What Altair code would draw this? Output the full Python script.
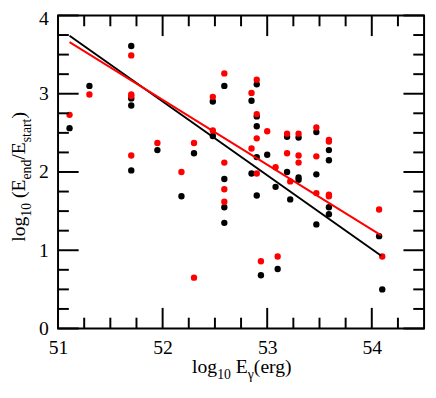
import altair as alt
import pandas as pd

# ---------------- data ----------------
x_black = [51.11, 51.30, 51.70, 51.70, 51.70, 51.70, 51.95, 52.18, 52.30, 52.48,
           52.48, 52.59, 52.59, 52.59, 52.59, 52.85, 52.85, 52.90, 52.90, 52.90,
           52.90, 52.90, 52.94, 53.00, 53.08, 53.10, 53.19, 53.19, 53.22, 53.30,
           53.30, 53.30, 53.47, 53.47, 53.47, 53.59, 53.59, 53.59, 53.59, 54.07,
           54.10]
y_black = [2.56, 3.10, 3.61, 2.94, 2.85, 2.02, 2.28, 1.69, 2.24, 2.90,
           2.46, 3.10, 1.91, 1.55, 1.35, 2.91, 1.98, 3.12, 2.71, 2.585,
           2.19, 1.70, 0.68, 2.22, 1.81, 0.76, 2.45, 2.00, 1.65, 2.44,
           1.93, 1.90, 2.51, 1.97, 1.33, 2.28, 2.15, 1.55, 1.46, 1.18,
           0.50]
x_red = [51.11, 51.30, 51.70, 51.70, 51.70, 51.70, 51.95, 52.18, 52.30, 52.30,
         52.48, 52.48, 52.59, 52.59, 52.59, 52.59, 52.85, 52.85, 52.90, 52.90,
         52.90, 52.90, 52.94, 53.00, 53.08, 53.10, 53.19, 53.19, 53.22, 53.30,
         53.30, 53.30, 53.47, 53.47, 53.47, 53.59, 53.59, 53.59, 53.59, 54.07,
         54.10]
y_red = [2.73, 2.99, 3.49, 2.99, 2.97, 2.21, 2.37, 2.00, 2.37, 0.65,
         2.96, 2.53, 3.26, 2.12, 1.78, 1.62, 3.01, 2.30, 3.18, 2.74,
         2.43, 1.98, 0.86, 2.52, 2.06, 0.92, 2.49, 2.24, 1.88, 2.49,
         2.21, 2.12, 2.57, 2.20, 1.73, 2.41, 2.39, 1.71, 1.69, 1.52,
         0.92]

fit_x = [51.11, 54.09]
fit_black = [3.74, 0.93]
fit_red = [3.66, 1.19]

x_major = [51, 52, 53, 54]
x_minor = [51.25, 51.5, 51.75, 52.25, 52.5, 52.75, 53.25, 53.5, 53.75, 54.25]
y_major = [0, 1, 2, 3, 4]
y_minor = [0.25, 0.5, 0.75, 1.25, 1.5, 1.75, 2.25, 2.5, 2.75, 3.25, 3.5, 3.75]

x_title = [("log", "main"), ("10", "sub"), (" ", "main"), ("E", "main"),
           ("\u03b3", "sub"), ("(erg)", "main")]
y_title = [("log", "main"), ("10", "sub"), (" ", "main"), ("(E", "main"),
           ("end", "sub"), ("/E", "main"), ("start", "sub"), (")", "main")]

# ---------------- style ----------------
FONT = "Liberation Serif"
W, H = 373, 319
MAIN, SUB, SHIFT = 20, 14, 6
MAJ, MIN = 21, 11

xscale = alt.Scale(domain=[51, 54.5], nice=False, zero=False)
yscale = alt.Scale(domain=[0, 4], nice=False, zero=False)
xaxis = alt.Axis(values=x_major, ticks=False, domain=False, grid=False, title=None,
                 labelFont=FONT, labelFontSize=MAIN, labelColor="black",
                 labelPadding=9, labelFlush=False, labelOverlap=False, format="d")
yaxis = alt.Axis(values=y_major, ticks=False, domain=False, grid=False, title=None,
                 labelFont=FONT, labelFontSize=MAIN, labelColor="black",
                 labelPadding=10, labelFlush=False, labelOverlap=False, format="d",
                 labelOffset={"condition": {"test": "datum.value === 4", "value": 3},
                              "value": 0})


def X(f):
    return alt.X(f"{f}:Q", scale=xscale, axis=xaxis)


def Y(f):
    return alt.Y(f"{f}:Q", scale=yscale, axis=yaxis)


layers = []
for xs, ys, col in [(x_black, y_black, "black"), (x_red, y_red, "#ff0000")]:
    df = pd.DataFrame({"x": xs, "y": ys})
    layers.append(alt.Chart(df).mark_circle(size=42, color=col, opacity=1)
                  .encode(x=X("x"), y=Y("y")))

for ys, col in [(fit_black, "black"), (fit_red, "#ff0000")]:
    df = pd.DataFrame({"x": fit_x, "y": ys})
    layers.append(alt.Chart(df).mark_line(color=col, strokeWidth=2)
                  .encode(x=X("x"), y=Y("y")))

# inward ticks on all four sides
for vals, ln in [(x_major, MAJ), (x_minor, MIN)]:
    df = pd.DataFrame({"x": vals})
    for y0, y1 in [(H, H - ln), (0, ln)]:
        layers.append(alt.Chart(df).mark_rule(color="black", strokeWidth=2)
                      .encode(x=X("x"), y=alt.value(y0), y2=alt.value(y1)))
for vals, ln in [(y_major, MAJ), (y_minor, MIN)]:
    df = pd.DataFrame({"y": vals})
    for x0, x1 in [(0, ln), (W, W - ln)]:
        layers.append(alt.Chart(df).mark_rule(color="black", strokeWidth=2)
                      .encode(y=Y("y"), x=alt.value(x0), x2=alt.value(x1)))

# axis titles with real subscripts
EM = {"l": .278, "o": .5, "g": .5, "1": .5, "0": .5, " ": .25, "(": .333, ")": .333,
      "E": .611, "e": .444, "n": .5, "d": .5, "/": .278, "s": .389, "t": .278,
      "a": .444, "r": .333, "\u03b3": .44}


def width(txt, size):
    return sum(EM.get(c, .5) for c in txt) * size


one = pd.DataFrame({"a": [0]})

# x title
total = sum(width(t, MAIN if k == "main" else SUB) for t, k in x_title)
cx, base = W / 2 + 1, H + 45
pos = cx - total / 2
for t, k in x_title:
    size = MAIN if k == "main" else SUB
    if t.strip():
        layers.append(alt.Chart(one).mark_text(
            align="left", baseline="alphabetic", font=FONT, fontSize=size, color="black")
            .encode(x=alt.value(pos), y=alt.value(base + (SHIFT if k == "sub" else 0)),
                    text=alt.value(t)))
    pos += width(t, size)

# y title (rotated)
total = sum(width(t, MAIN if k == "main" else SUB) for t, k in y_title)
cy, basex = H / 2 + 5, -34
pos = cy + total / 2
for t, k in y_title:
    size = MAIN if k == "main" else SUB
    if t.strip():
        layers.append(alt.Chart(one).mark_text(
            align="left", baseline="alphabetic", angle=270, font=FONT, fontSize=size,
            color="black")
            .encode(x=alt.value(basex + (SHIFT if k == "sub" else 0)), y=alt.value(pos),
                    text=alt.value(t)))
    pos -= width(t, size)

chart = alt.layer(*layers).properties(
    width=W, height=H,
    padding={"left": 51, "top": 4, "right": 4, "bottom": 56},
    autosize=alt.AutoSizeParams(type="none"),
).configure_view(stroke="black", strokeWidth=2)

chart.save("out.html", embed_options={"renderer": "svg", "actions": False})
